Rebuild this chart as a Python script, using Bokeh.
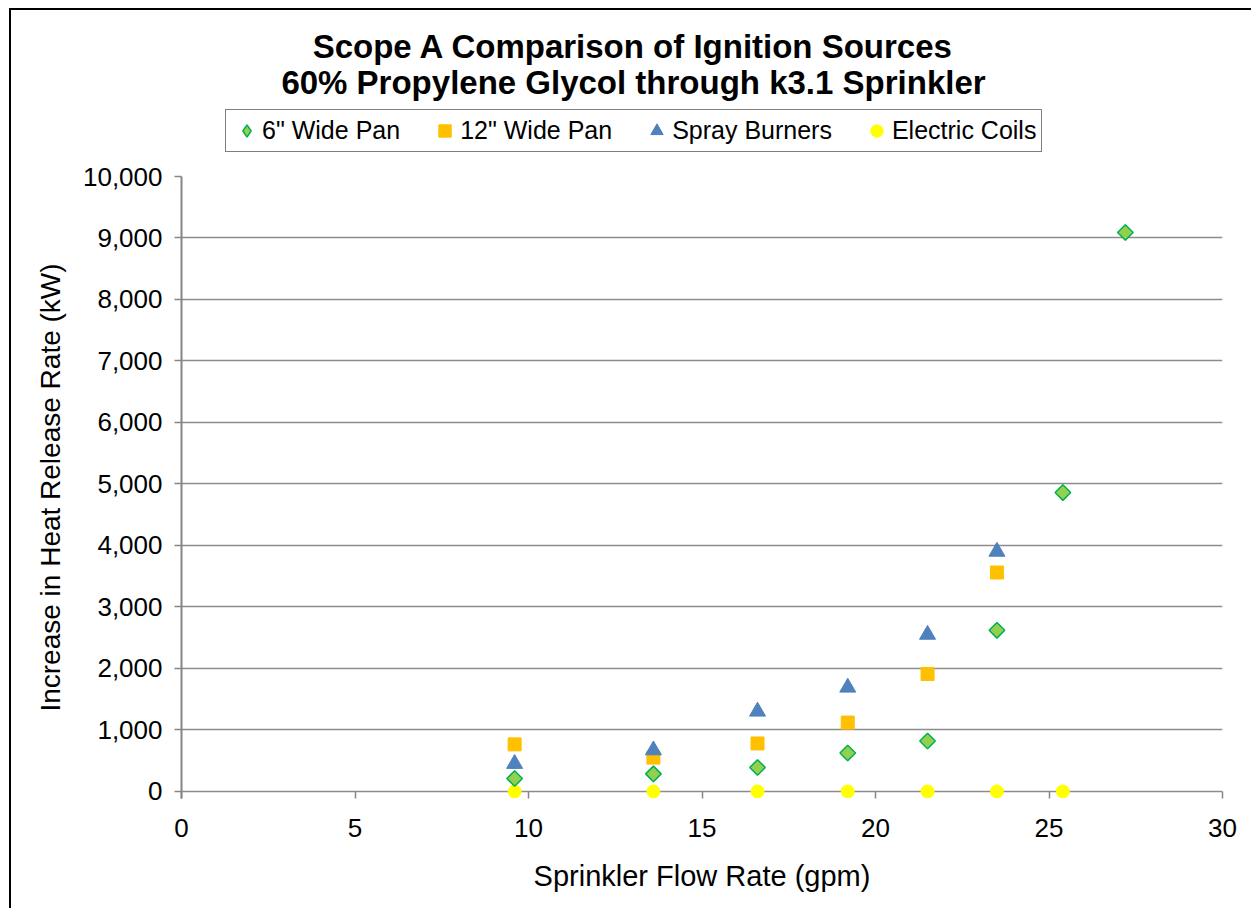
import math
from bokeh.plotting import figure
from bokeh.layouts import column
from bokeh.models import (Range1d, Legend, LegendItem, Label, NumeralTickFormatter,
                          FixedTicker)
from bokeh.embed import file_html
from bokeh.resources import INLINE

# ---------------- data ----------------
title_lines = ["Scope A Comparison of Ignition Sources",
               "60% Propylene Glycol through k3.1 Sprinkler"]
x_label = "Sprinkler Flow Rate (gpm)"
y_label = "Increase in Heat Release Rate (kW)"

series_names = ['6" Wide Pan', '12" Wide Pan', "Spray Burners", "Electric Coils"]

flow_6in = [9.6, 13.6, 16.6, 19.2, 21.5, 23.5, 25.4, 27.2]
hrr_6in = [210, 285, 390, 625, 820, 2620, 4860, 9090]

flow_12in = [9.6, 13.6, 16.6, 19.2, 21.5, 23.5]
hrr_12in = [765, 550, 780, 1120, 1910, 3560]

flow_spray = [9.6, 13.6, 16.6, 19.2, 21.5, 23.5]
hrr_spray = [450, 670, 1300, 1690, 2550, 3900]

flow_coils = [9.6, 13.6, 16.6, 19.2, 21.5, 23.5, 25.4]
hrr_coils = [0, 0, 0, 0, 0, 0, 0]

x_ticks = [0, 5, 10, 15, 20, 25, 30]
y_ticks = [0, 1000, 2000, 3000, 4000, 5000, 6000, 7000, 8000, 9000, 10000]

FONT = "Liberation Sans"
STYLES = {
    "6in": dict(marker="square", angle=math.pi / 4, size=11, fill_color="#92D050",
                line_color="#00B050", line_width=1.5),
    "6in_key": dict(marker="diamond", size=16, fill_color="#92D050",
                    line_color="#00B050", line_width=1.5),
    "12in": dict(marker="square", size=13, fill_color="#FFC000", line_color="#FFC000"),
    "spray": dict(marker="triangle", size=16, fill_color="#4F81BD", line_color="#4F81BD"),
    "coils": dict(marker="circle", size=13, fill_color="#FFFF00", line_color="#FFFF00"),
}

W = 1240
HEAD_H = 150
B_LEFT, B_RIGHT = 170, 29
FRAME_R = W - B_RIGHT

# ---------------- header (titles + legend) ----------------
head = figure(width=W, height=HEAD_H, output_backend="svg", toolbar_location=None,
              x_range=Range1d(B_LEFT, FRAME_R), y_range=Range1d(0, HEAD_H),
              x_axis_location=None, y_axis_location=None,
              min_border_left=B_LEFT, min_border_right=B_RIGHT,
              min_border_top=0, min_border_bottom=0, title=None)
head.outline_line_color = None
head.xgrid.grid_line_color = None
head.ygrid.grid_line_color = None
head.background_fill_color = "white"
head.border_fill_color = "white"

# legend-key renderers (single point placed outside the visible header area)
k6 = head.scatter(x=[-500], y=[-500], **STYLES["6in_key"])
k12 = head.scatter(x=[-500], y=[-500], **STYLES["12in"])
ksp = head.scatter(x=[-500], y=[-500], **STYLES["spray"])
kco = head.scatter(x=[-500], y=[-500], **STYLES["coils"])

legend = Legend(items=[LegendItem(label=series_names[0], renderers=[k6]),
                       LegendItem(label=series_names[1], renderers=[k12]),
                       LegendItem(label=series_names[2], renderers=[ksp]),
                       LegendItem(label=series_names[3], renderers=[kco])],
                orientation="horizontal", location=(44, 8),
                label_text_font=FONT, label_text_font_size="25px",
                label_text_color="black",
                glyph_width=31, glyph_height=31, label_standoff=0,
                spacing=29, padding=5, margin=0,
                border_line_color="black", border_line_width=1.5,
                background_fill_color="white", background_fill_alpha=1.0)
head.add_layout(legend, "center")

for txt, ypos in zip(title_lines, [114, 78]):
    head.add_layout(Label(x=622, y=ypos, text=txt, text_align="center",
                          text_baseline="middle", text_font=FONT,
                          text_font_size="33px", text_font_style="bold",
                          text_color="black"))

# ---------------- main plot ----------------
p = figure(width=W, height=898 - HEAD_H, output_backend="svg", toolbar_location=None,
           x_range=Range1d(0, 30), y_range=Range1d(-115, 10000),
           min_border_left=B_LEFT, min_border_right=B_RIGHT, min_border_top=16,
           min_border_bottom=110, title=None)
p.outline_line_color = None
p.background_fill_color = "white"
p.border_fill_color = "white"

p.xgrid.grid_line_color = None
p.ygrid.ticker = FixedTicker(ticks=y_ticks)
p.ygrid.grid_line_color = "#8c8c8c"
p.ygrid.grid_line_width = 1.5

xa = p.xaxis[0]
ya = p.yaxis[0]
xa.ticker = FixedTicker(ticks=x_ticks)
ya.ticker = FixedTicker(ticks=y_ticks)
ya.formatter = NumeralTickFormatter(format="0,0")
xa.axis_line_color = None
for ax in (xa, ya):
    ax.major_tick_line_color = "#868686"
    ax.major_tick_line_width = 1.5
    ax.minor_tick_line_color = None
    ax.major_label_text_font = FONT
    ax.major_label_text_font_size = "26px"
    ax.major_label_text_color = "black"
    ax.axis_label_text_font = FONT
    ax.axis_label_text_font_style = "normal"
    ax.axis_label_text_color = "black"
xa.axis_label_text_font_size = "29px"
ya.axis_label_text_font_size = "28px"
xa.major_tick_in = 7
xa.major_tick_out = 0
ya.major_tick_in = 0
ya.major_tick_out = 7
ya.axis_line_color = "#868686"
ya.axis_line_width = 2
xa.axis_label = x_label
ya.axis_label = y_label
xa.major_label_standoff = 20
ya.major_label_standoff = 12
xa.axis_label_standoff = 20
ya.axis_label_standoff = 14

p.scatter(flow_coils, hrr_coils, **STYLES["coils"])
p.scatter(flow_6in, hrr_6in, **STYLES["6in"])
p.scatter(flow_12in, hrr_12in, **STYLES["12in"])
p.scatter(flow_spray, hrr_spray, **STYLES["spray"])

layout = column(head, p, spacing=0)
layout.styles = {"margin-left": "9px", "margin-top": "8px",
                 "border-left": "2px solid black", "border-top": "2px solid black"}

open("out.html", "w").write(file_html(layout, INLINE))
